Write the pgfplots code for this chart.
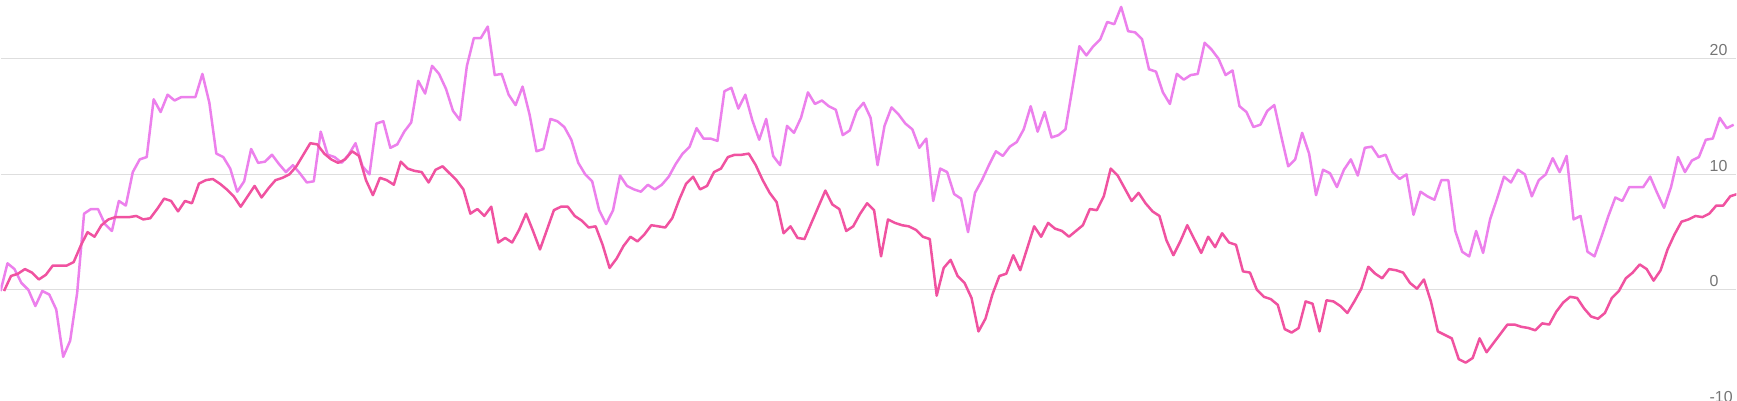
\documentclass[border=0pt]{standalone}
\usepackage{fontspec}
\setmainfont{Liberation Sans}
\usepackage{pgfplots}
\usepackage{pgfplotstable}
\pgfplotsset{compat=1.18}
\definecolor{lightline}{RGB}{236,128,236}
\definecolor{darkline}{RGB}{240,82,160}
\definecolor{gridc}{RGB}{222,222,222}
\definecolor{labc}{RGB}{117,117,117}
\pgfplotstableread{
v
-0.1
2.3
1.8
0.6
0.0
-1.4
-0.1
-0.4
-1.7
-5.8
-4.4
-0.3
6.6
7.0
7.0
5.7
5.1
7.7
7.3
10.2
11.3
11.5
16.5
15.4
16.9
16.4
16.7
16.7
16.7
18.7
16.2
11.8
11.5
10.5
8.5
9.4
12.2
11.0
11.1
11.7
10.9
10.2
10.8
10.1
9.3
9.4
13.7
11.7
11.5
11.0
11.7
12.7
10.7
10.0
14.4
14.6
12.3
12.6
13.7
14.5
18.1
17.0
19.4
18.7
17.4
15.5
14.7
19.4
21.8
21.8
22.8
18.6
18.7
16.9
16.0
17.6
15.2
12.0
12.2
14.8
14.6
14.1
13.0
11.0
10.0
9.4
6.9
5.7
6.9
9.9
9.0
8.7
8.5
9.1
8.7
9.1
9.8
10.9
11.8
12.4
14.0
13.1
13.1
12.9
17.2
17.5
15.7
16.9
14.7
13.0
14.8
11.6
10.8
14.2
13.6
14.9
17.1
16.1
16.4
15.9
15.6
13.4
13.8
15.5
16.2
14.9
10.8
14.2
15.8
15.2
14.4
13.9
12.3
13.1
7.7
10.5
10.2
8.3
7.9
5.0
8.4
9.5
10.8
12.0
11.6
12.4
12.8
13.9
15.9
13.7
15.4
13.2
13.4
13.9
17.5
21.1
20.3
21.1
21.7
23.2
23.0
24.5
22.4
22.3
21.7
19.1
18.9
17.1
16.1
18.7
18.2
18.6
18.7
21.4
20.8
20.0
18.6
19.0
15.9
15.4
14.1
14.3
15.5
16.0
13.3
10.7
11.3
13.6
11.8
8.2
10.4
10.1
8.9
10.4
11.3
9.9
12.3
12.4
11.5
11.7
10.2
9.6
10.0
6.5
8.5
8.1
7.8
9.5
9.5
5.1
3.3
2.9
5.1
3.2
6.1
7.9
9.8
9.3
10.4
10.0
8.1
9.5
10.0
11.4
10.2
11.6
6.1
6.4
3.3
2.9
4.6
6.4
8.0
7.7
8.9
8.9
8.9
9.8
8.4
7.1
8.9
11.5
10.2
11.2
11.5
13.0
13.1
14.9
14.0
14.3
}\lighttable
\pgfplotstableread{
v
-0.1
1.2
1.4
1.8
1.5
0.9
1.3
2.1
2.1
2.1
2.4
3.8
5.0
4.6
5.6
6.1
6.3
6.3
6.3
6.4
6.1
6.2
7.0
7.9
7.7
6.8
7.7
7.5
9.2
9.5
9.6
9.2
8.7
8.1
7.2
8.1
9.0
8.0
8.8
9.5
9.7
10.0
10.7
11.7
12.7
12.6
11.8
11.3
11.0
11.3
12.0
11.6
9.5
8.2
9.7
9.5
9.1
11.1
10.5
10.3
10.2
9.3
10.4
10.7
10.1
9.5
8.7
6.6
7.0
6.4
7.2
4.1
4.5
4.1
5.2
6.6
5.1
3.5
5.2
6.9
7.2
7.2
6.4
6.0
5.4
5.5
3.9
1.9
2.7
3.8
4.6
4.2
4.8
5.6
5.5
5.4
6.2
7.8
9.2
9.8
8.7
9.0
10.2
10.5
11.5
11.7
11.7
11.8
10.8
9.5
8.4
7.6
4.9
5.5
4.5
4.4
5.8
7.2
8.6
7.4
7.0
5.1
5.5
6.6
7.5
6.9
2.9
6.1
5.8
5.6
5.5
5.2
4.6
4.4
-0.5
1.9
2.6
1.2
0.6
-0.7
-3.6
-2.5
-0.4
1.2
1.4
3.0
1.7
3.6
5.5
4.6
5.8
5.3
5.1
4.6
5.1
5.6
7.0
6.9
8.1
10.5
9.9
8.8
7.7
8.4
7.5
6.8
6.4
4.3
3.0
4.2
5.6
4.4
3.2
4.6
3.7
4.9
4.1
3.9
1.6
1.5
0.0
-0.6
-0.8
-1.3
-3.4
-3.7
-3.3
-1.0
-1.2
-3.6
-0.9
-1.0
-1.4
-2.0
-1.0
0.1
2.0
1.4
1.0
1.8
1.7
1.5
0.6
0.1
0.9
-1.0
-3.6
-3.9
-4.2
-6.0
-6.3
-5.9
-4.2
-5.4
-4.6
-3.8
-3.0
-3.0
-3.2
-3.3
-3.5
-2.9
-3.0
-1.9
-1.1
-0.6
-0.7
-1.6
-2.3
-2.5
-2.0
-0.7
-0.1
1.0
1.5
2.2
1.8
0.8
1.7
3.5
4.8
5.9
6.1
6.4
6.3
6.6
7.3
7.3
8.1
8.3
}\darktable
\begin{document}
\begin{tikzpicture}
\begin{axis}[
  scale only axis,
  width=1737bp, height=401bp,
  xmin=0, xmax=249.4,
  ymin=-9.6, ymax=25.1,
  axis line style={draw=none},
  xtick=\empty,
  ytick={0,10,20},
  yticklabels={0,10,20},
  yticklabel pos=right,
  major tick length=0pt,
  ymajorgrids,
  grid style={draw=gridc, line width=1.1bp},
  yticklabel style={anchor=south west, inner sep=0pt, xshift=-27bp, yshift=3bp,
    font=\fontsize{16}{18}\selectfont, text=labc},
  clip=true,
]
\addplot[draw=lightline, line width=2.5bp, line join=round, no markers]
  table[x expr=\coordindex, y=v] {\lighttable};
\addplot[draw=darkline, line width=2.5bp, line join=round, no markers]
  table[x expr=\coordindex+0.5, y=v] {\darktable};
\node[overlay, anchor=south west, inner sep=0pt, text=labc,
  font=\fontsize{16}{18}\selectfont] at (axis cs:249.4,-10) [xshift=-27bp, yshift=3bp] {-10};
\end{axis}
\end{tikzpicture}
\end{document}
